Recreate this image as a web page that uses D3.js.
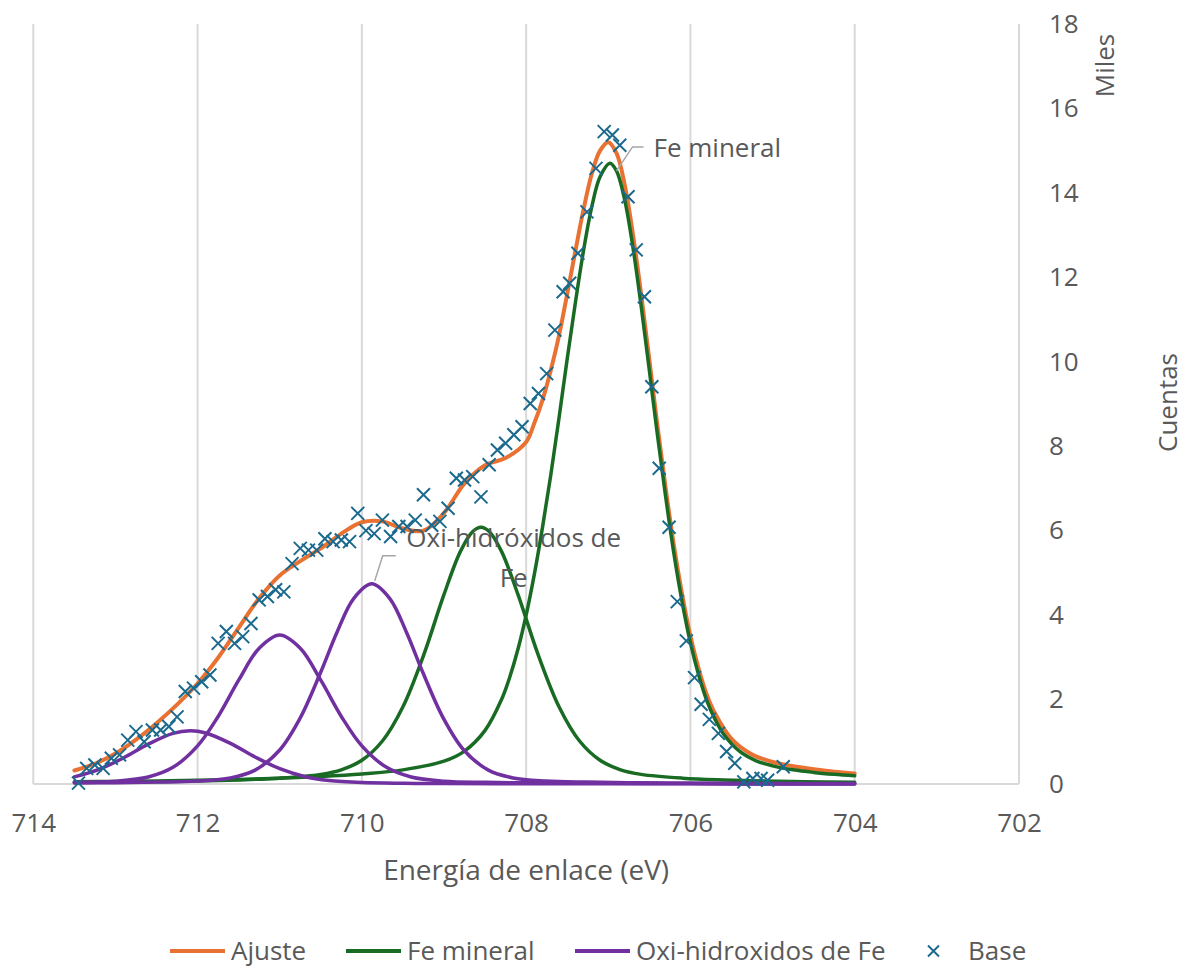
<!DOCTYPE html>
<html>
<head>
<meta charset="utf-8">
<script src="https://cdn.jsdelivr.net/npm/d3@7"></script>
<style>
  html, body { margin: 0; padding: 0; background: #ffffff; }
  svg { display: block; font-family: "Open Sans", sans-serif; }
</style>
</head>
<body>
<svg id="chart" width="1186" height="968"></svg>
<script>
// ---------------- DATA (counts in thousands, "Miles") ----------------
const xTicks = [714, 712, 710, 708, 706, 704, 702];
const yTicks = [0, 2, 4, 6, 8, 10, 12, 14, 16, 18];

// Ajuste (envelope fit)
const energiaAjuste = [713.5, 713.25, 713.0, 712.75, 712.5, 712.25, 712.0, 711.75, 711.5, 711.25,
  711.0, 710.75, 710.5, 710.25, 710.0, 709.75, 709.5, 709.25, 709.0, 708.75, 708.5, 708.25,
  708.0, 707.9, 707.8, 707.7, 707.6, 707.5, 707.4, 707.3, 707.2, 707.1, 707.0, 706.9, 706.8,
  706.7, 706.6, 706.5, 706.4, 706.3, 706.2, 706.1, 706.0, 705.9, 705.8, 705.7, 705.5, 705.25,
  705.0, 704.75, 704.5, 704.25, 704.0];
const ajuste = [0.32, 0.48, 0.72, 1.05, 1.44, 1.88, 2.38, 2.99, 3.70, 4.40,
  4.94, 5.28, 5.58, 5.93, 6.20, 6.22, 6.05, 6.00, 6.42, 7.12, 7.55, 7.72,
  8.10, 8.55, 9.10, 9.80, 10.62, 11.61, 12.63, 13.62, 14.46, 15.00, 15.20, 14.94, 14.19,
  13.02, 11.60, 10.04, 8.46, 6.98, 5.63, 4.48, 3.50, 2.73, 2.11, 1.67, 1.07, 0.70,
  0.52, 0.42, 0.35, 0.29, 0.25];

// Fe mineral, main peak
const energiaFe1 = [713.5, 713.0, 712.5, 712.0, 711.5, 711.0, 710.5, 710.0, 709.5, 709.0, 708.75,
  708.5, 708.3, 708.2, 708.1, 708.0, 707.9, 707.8, 707.7, 707.6, 707.5, 707.4, 707.3, 707.2,
  707.1, 706.98, 706.9, 706.8, 706.7, 706.6, 706.5, 706.4, 706.3, 706.2, 706.1, 706.0, 705.9,
  705.8, 705.7, 705.6, 705.4, 705.2, 705.0, 704.75, 704.5, 704.25, 704.0];
const feMineral1 = [0.053, 0.062, 0.074, 0.089, 0.109, 0.137, 0.177, 0.237, 0.335, 0.54, 0.78,
  1.27, 2.00, 2.53, 3.19, 4.00, 4.97, 6.09, 7.32, 8.67, 10.07, 11.41, 12.65, 13.68,
  14.38, 14.70, 14.52, 13.83, 12.71, 11.32, 9.79, 8.24, 6.78, 5.44, 4.30, 3.34, 2.58,
  1.97, 1.53, 1.19, 0.77, 0.55, 0.43, 0.336, 0.275, 0.23, 0.195];

// Fe mineral, second peak
const energiaFe2 = [713.5, 713.0, 712.5, 712.0, 711.5, 711.0, 710.5, 710.25, 710.0, 709.75, 709.5,
  709.25, 709.0, 708.8, 708.65, 708.55, 708.45, 708.3, 708.1, 707.85, 707.6, 707.35, 707.1,
  706.85, 706.6, 706.1, 705.6, 705.1, 704.6, 704.0];
const feMineral2 = [0.036, 0.044, 0.056, 0.072, 0.097, 0.139, 0.228, 0.336, 0.562, 1.018, 1.83,
  3.04, 4.49, 5.51, 5.98, 6.08, 5.98, 5.51, 4.49, 3.04, 1.83, 1.018, 0.562,
  0.336, 0.228, 0.139, 0.097, 0.072, 0.056, 0.042];

// Oxi-hidroxidos de Fe, three peaks
const energiaOxi1 = [713.5, 713.2, 712.9, 712.6, 712.3, 712.09, 711.9, 711.6, 711.3, 711.0, 710.7,
  710.4, 710.0, 709.5, 709.0, 708.0, 707.0, 706.0, 705.0, 704.0];
const oxi1 = [0.17, 0.347, 0.62, 0.943, 1.198, 1.26, 1.209, 0.963, 0.641, 0.362, 0.179,
  0.083, 0.034, 0.017, 0.012, 0.007, 0.005, 0.003, 0.002, 0.002];

const energiaOxi2 = [713.5, 713.0, 712.6, 712.3, 712.0, 711.75, 711.5, 711.25, 711.0, 710.75, 710.5,
  710.25, 710.0, 709.7, 709.4, 709.0, 708.5, 708.0, 707.0, 706.0, 705.0, 704.0];
const oxi2 = [0.039, 0.068, 0.166, 0.394, 0.903, 1.60, 2.458, 3.216, 3.53, 3.216, 2.458,
  1.60, 0.903, 0.394, 0.166, 0.068, 0.039, 0.027, 0.016, 0.010, 0.007, 0.005];

const energiaOxi3 = [713.5, 713.0, 712.5, 712.0, 711.6, 711.3, 711.0, 710.75, 710.5, 710.3, 710.1,
  709.88, 709.66, 709.46, 709.26, 709.01, 708.76, 708.46, 708.16, 707.76, 707.26, 706.76,
  706.26, 705.5, 704.5, 704.0];
const oxi3 = [0.024, 0.032, 0.045, 0.071, 0.144, 0.329, 0.806, 1.566, 2.653, 3.608, 4.391,
  4.74, 4.391, 3.608, 2.653, 1.566, 0.806, 0.329, 0.144, 0.071, 0.045, 0.032,
  0.024, 0.017, 0.011, 0.009];

// Base (measured points)
const energiaBase = [713.45, 713.35, 713.25, 713.15, 713.05, 712.95, 712.85, 712.75, 712.65, 712.55,
  712.45, 712.35, 712.25, 712.15, 712.05, 711.95, 711.85, 711.75, 711.65, 711.55,
  711.45, 711.35, 711.25, 711.15, 711.05, 710.95, 710.85, 710.75, 710.65, 710.55,
  710.45, 710.35, 710.25, 710.15, 710.05, 709.95, 709.85, 709.75, 709.65, 709.55,
  709.45, 709.35, 709.25, 709.15, 709.05, 708.95, 708.85, 708.75, 708.65, 708.55,
  708.45, 708.35, 708.25, 708.15, 708.05, 707.95, 707.85, 707.75, 707.65, 707.55,
  707.47, 707.37, 707.26, 707.15, 707.05, 706.95, 706.86, 706.76, 706.66, 706.56,
  706.47, 706.38, 706.26, 706.16, 706.05, 705.95, 705.87, 705.77, 705.66, 705.56,
  705.46, 705.35, 705.24, 705.14, 705.06, 704.87];
const base = [0.02, 0.37, 0.45, 0.37, 0.61, 0.69, 1.04, 1.24, 1.00, 1.28,
  1.28, 1.36, 1.59, 2.19, 2.27, 2.42, 2.58, 3.33, 3.61, 3.33,
  3.49, 3.80, 4.36, 4.44, 4.60, 4.55, 5.22, 5.58, 5.54, 5.54,
  5.81, 5.74, 5.78, 5.74, 6.41, 6.00, 5.93, 6.25, 5.86, 6.10,
  6.10, 6.25, 6.85, 6.13, 6.22, 6.53, 7.24, 7.20, 7.28, 6.80,
  7.56, 7.91, 8.07, 8.27, 8.46, 9.01, 9.25, 9.72, 10.75, 11.66,
  11.86, 12.57, 13.55, 14.58, 15.45, 15.37, 15.13, 13.91, 12.65, 11.54,
  9.41, 7.48, 6.08, 4.32, 3.39, 2.52, 1.89, 1.53, 1.20, 0.77,
  0.49, 0.05, 0.13, 0.13, 0.09, 0.41];

const seriesNames = ["Ajuste", "Fe mineral", "Oxi-hidroxidos de Fe", "Base"];
const seriesColors = ["#E97132", "#196B24", "#7030A0", "#1B6A8E"];

// ---------------- CHART ----------------
const svg = d3.select("#chart");
const W = 1186, H = 968;
const plot = { left: 33.3, right: 1019, top: 24, bottom: 784 };
const FONT = 26;
const TXT = "#595959";
const GRID = "#D9D9D9";

svg.append("rect").attr("width", W).attr("height", H).attr("fill", "#fff");

const x = d3.scaleLinear().domain([714, 702]).range([plot.left, plot.right]);
const y = d3.scaleLinear().domain([0, 18]).range([plot.bottom, plot.top]);

// vertical gridlines
svg.append("g").selectAll("line").data(xTicks).join("line")
  .attr("x1", d => x(d)).attr("x2", d => x(d))
  .attr("y1", y(18)).attr("y2", y(0))
  .attr("stroke", GRID).attr("stroke-width", 2);
// bottom axis line
svg.append("line")
  .attr("x1", x(714)).attr("x2", x(702)).attr("y1", y(0)).attr("y2", y(0))
  .attr("stroke", GRID).attr("stroke-width", 2);

// x axis labels
const xAxis = svg.append("g").attr("transform", `translate(0,${y(0)})`)
  .call(d3.axisBottom(x).tickValues(xTicks).tickSize(0).tickPadding(30).tickFormat(d3.format("d")));
xAxis.select(".domain").remove();
xAxis.selectAll("text").attr("font-size", FONT).attr("fill", TXT).attr("font-family", "Open Sans, sans-serif");

// y axis labels (right)
const yAxis = svg.append("g").attr("transform", `translate(${x(702)},0)`)
  .call(d3.axisRight(y).tickValues(yTicks).tickSize(0).tickPadding(30).tickFormat(d3.format("d")));
yAxis.select(".domain").remove();
yAxis.selectAll("text").attr("font-size", FONT).attr("fill", TXT).attr("font-family", "Open Sans, sans-serif");

// axis titles
svg.append("text").attr("x", x(708)).attr("y", 880)
  .attr("text-anchor", "middle").attr("font-size", 28).attr("fill", TXT)
  .text("Energía de enlace (eV)");
svg.append("text").attr("transform", "translate(1114,65.5) rotate(-90)")
  .attr("text-anchor", "middle").attr("font-size", FONT).attr("fill", TXT)
  .text("Miles");
svg.append("text").attr("transform", "translate(1177,402.5) rotate(-90)")
  .attr("text-anchor", "middle").attr("font-size", FONT).attr("fill", TXT)
  .text("Cuentas");

// curves
const line = d3.line().x(d => x(d[0])).y(d => y(d[1])).curve(d3.curveCatmullRom.alpha(0.5));
const curves = [
  { e: energiaAjuste, v: ajuste, c: seriesColors[0], w: 4 },
  { e: energiaFe1, v: feMineral1, c: seriesColors[1], w: 3.5 },
  { e: energiaFe2, v: feMineral2, c: seriesColors[1], w: 3.5 },
  { e: energiaOxi1, v: oxi1, c: seriesColors[2], w: 3.5 },
  { e: energiaOxi2, v: oxi2, c: seriesColors[2], w: 3.5 },
  { e: energiaOxi3, v: oxi3, c: seriesColors[2], w: 3.5 }
];
svg.append("g").selectAll("path").data(curves).join("path")
  .attr("d", d => line(d3.zip(d.e, d.v)))
  .attr("fill", "none").attr("stroke", d => d.c).attr("stroke-width", d => d.w)
  .attr("stroke-linejoin", "round").attr("stroke-linecap", "round");

// base markers (x shape)
const M = 6.5;
svg.append("g").selectAll("path").data(d3.zip(energiaBase, base)).join("path")
  .attr("d", d => {
    const cx = x(d[0]), cy = y(d[1]);
    return `M${cx - M},${cy - M}L${cx + M},${cy + M}M${cx - M},${cy + M}L${cx + M},${cy - M}`;
  })
  .attr("stroke", seriesColors[3]).attr("stroke-width", 2).attr("fill", "none");

// annotations (leader lines anchored on data points)
const LEAD = "#A6A6A6";
const iFe = energiaFe1.indexOf(706.9);
const feX = x(energiaFe1[iFe]), feY = y(feMineral1[iFe]);
svg.append("path")
  .attr("d", `M${feX},${feY}L${feX + 16},${feY - 24}L${feX + 27},${feY - 24}`)
  .attr("fill", "none").attr("stroke", LEAD).attr("stroke-width", 1.5);
svg.append("text").attr("x", feX + 37).attr("y", feY - 24 + 10)
  .attr("font-size", FONT).attr("fill", TXT).text("Fe mineral");

const iOx = energiaOxi3.indexOf(709.88);
const oxX = x(energiaOxi3[iOx]), oxY = y(oxi3[iOx]);
svg.append("path")
  .attr("d", `M${oxX + 3},${oxY - 3}L${oxX + 11},${oxY - 28}L${oxX + 24},${oxY - 28}`)
  .attr("fill", "none").attr("stroke", LEAD).attr("stroke-width", 1.5);
const oxText = svg.append("text").attr("text-anchor", "middle").attr("font-size", FONT).attr("fill", TXT);
oxText.append("tspan").attr("x", oxX + 142).attr("y", oxY - 37).text("Oxi-hidróxidos de");
oxText.append("tspan").attr("x", oxX + 142).attr("y", oxY + 3).text("Fe");

// legend
const legY = 951;
const legend = [
  { name: seriesNames[0], color: seriesColors[0], x0: 170, type: "line" },
  { name: seriesNames[1], color: seriesColors[1], x0: 346, type: "line" },
  { name: seriesNames[2], color: seriesColors[2], x0: 575, type: "line" },
  { name: seriesNames[3], color: seriesColors[3], x0: 928, type: "marker" }
];
const lg = svg.append("g").selectAll("g").data(legend).join("g");
lg.filter(d => d.type === "line").append("line")
  .attr("x1", d => d.x0).attr("x2", d => d.x0 + 55).attr("y1", legY).attr("y2", legY)
  .attr("stroke", d => d.color).attr("stroke-width", 4);
lg.filter(d => d.type === "marker").append("path")
  .attr("d", d => `M${d.x0},${legY - 5.5}L${d.x0 + 11},${legY + 5.5}M${d.x0},${legY + 5.5}L${d.x0 + 11},${legY - 5.5}`)
  .attr("stroke", d => d.color).attr("stroke-width", 2).attr("fill", "none");
lg.append("text")
  .attr("x", d => d.type === "line" ? d.x0 + 61 : d.x0 + 40)
  .attr("y", legY + 8.5)
  .attr("font-size", FONT).attr("fill", TXT)
  .text(d => d.name);
</script>
</body>
</html>
